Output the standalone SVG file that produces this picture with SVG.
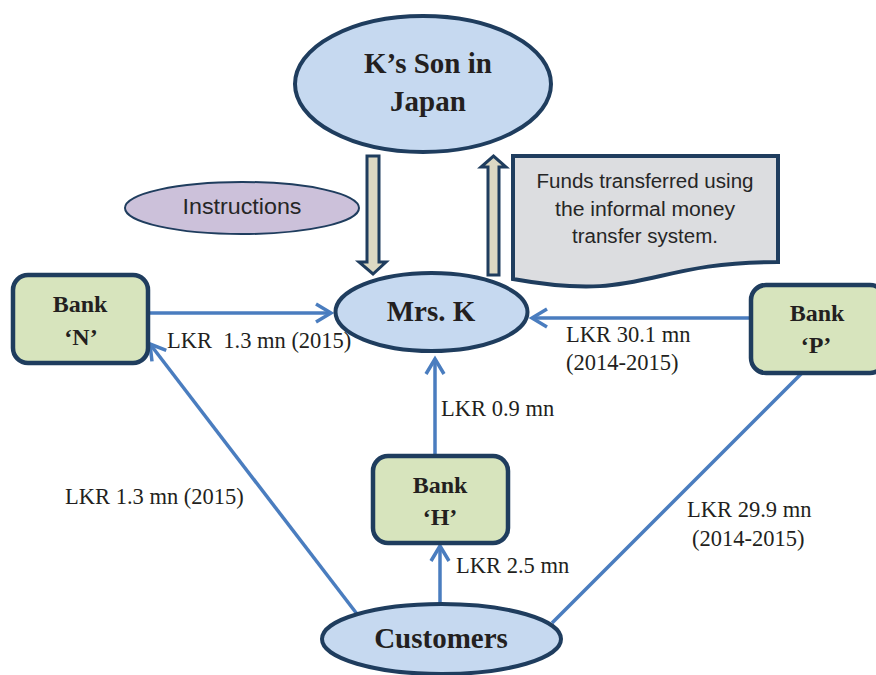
<svg xmlns="http://www.w3.org/2000/svg" width="876" height="675" viewBox="0 0 876 675">
  <style>
    .oval { fill: #c6d9f0; stroke: #1f3d5e; stroke-width: 4; }
    .bank { fill: #d7e4bd; stroke: #1f3d5e; stroke-width: 4.5; }
    .instr { fill: #ccc1da; stroke: #1f3d5e; stroke-width: 2; }
    .doc { fill: #dcdde0; stroke: #1f3d5e; stroke-width: 4; }
    .block { fill: #ddd9c3; stroke: #1f3d5e; stroke-width: 3; }
    .flow { fill: none; stroke: #4a7dbf; stroke-width: 3.5; }
    .title { font-family: "Liberation Serif", "Times New Roman", serif; font-weight: bold; fill: #231f20; text-anchor: middle; }
    .lbl { font-family: "Liberation Serif", "Times New Roman", serif; font-size: 22.5px; fill: #231f20; }
    .sans { font-family: "Liberation Sans", Arial, sans-serif; fill: #262626; text-anchor: middle; }
  </style>
  <defs>
    <marker id="chevron" markerUnits="userSpaceOnUse" markerWidth="24" markerHeight="24" viewBox="0 0 24 24" refX="19" refY="12" orient="auto">
      <path d="M4,3 L19,12 L4,21" fill="none" stroke="#4a7dbf" stroke-width="3.5"/>
    </marker>
  </defs>

  <!-- connectors -->
  <g id="connectors">
    <path class="flow" d="M148,313 L331,313" marker-end="url(#chevron)"/>
    <path class="flow" d="M751,318 L532,318" marker-end="url(#chevron)"/>
    <path class="flow" d="M435,455 L435,359" marker-end="url(#chevron)"/>
    <path class="flow" d="M440,604 L440,546" marker-end="url(#chevron)"/>
    <path class="flow" d="M357,614 L150,344" marker-end="url(#chevron)"/>
    <path class="flow" d="M552,623 L802,373"/>
    <path class="block" d="M367,156 H379 V262 H386 L373,274 L359,262 H367 Z"/>
    <path class="block" d="M488,275 V167 H481 L493.5,156 L506,167 H499 V275 Z"/>
  </g>

  <!-- edge labels -->
  <g id="labels">
    <text class="lbl" x="167" y="348" xml:space="preserve">LKR  1.3 mn (2015)</text>
    <text class="lbl" x="566" y="342">LKR 30.1 mn</text>
    <text class="lbl" x="566" y="370">(2014-2015)</text>
    <text class="lbl" x="441" y="416">LKR 0.9 mn</text>
    <text class="lbl" x="456" y="573">LKR 2.5 mn</text>
    <text class="lbl" x="65" y="504">LKR 1.3 mn (2015)</text>
    <text class="lbl" x="687" y="517">LKR 29.9 mn</text>
    <text class="lbl" x="692" y="546">(2014-2015)</text>
  </g>

  <g id="son">
    <ellipse class="oval" cx="423" cy="84" rx="128" ry="68"/>
    <text class="title" x="428" y="73" font-size="29">K’s Son in</text>
    <text class="title" x="428" y="111" font-size="29">Japan</text>
  </g>

  <g id="instructions">
    <ellipse class="instr" cx="242" cy="208" rx="117" ry="26"/>
    <text class="sans" x="242" y="214" font-size="22" textLength="119" lengthAdjust="spacingAndGlyphs">Instructions</text>
  </g>

  <g id="funds-note">
    <path class="doc" d="M513,156 H778 V262 C645,262 645,303 513,279 Z"/>
    <text class="sans" x="645" y="188" font-size="20" textLength="217" lengthAdjust="spacingAndGlyphs">Funds transferred using</text>
    <text class="sans" x="645" y="216" font-size="20" textLength="180" lengthAdjust="spacingAndGlyphs">the informal money</text>
    <text class="sans" x="645" y="243" font-size="20" textLength="146" lengthAdjust="spacingAndGlyphs">transfer system.</text>
  </g>

  <g id="mrs-k">
    <ellipse class="oval" cx="431.5" cy="312" rx="96" ry="39"/>
    <text class="title" x="431" y="321" font-size="29">Mrs. K</text>
  </g>

  <g id="bank-n">
    <rect class="bank" x="13" y="275" width="135" height="88" rx="15"/>
    <text class="title" x="80" y="312" font-size="24">Bank</text>
    <text class="title" x="81" y="345" font-size="24">‘N’</text>
  </g>

  <g id="bank-p">
    <rect class="bank" x="751" y="285" width="134" height="88" rx="15"/>
    <text class="title" x="817" y="321" font-size="24">Bank</text>
    <text class="title" x="816" y="353" font-size="24">‘P’</text>
  </g>

  <g id="bank-h">
    <rect class="bank" x="373" y="456" width="135" height="87" rx="15"/>
    <text class="title" x="440" y="493" font-size="24">Bank</text>
    <text class="title" x="440" y="525" font-size="24">‘H’</text>
  </g>

  <g id="customers">
    <ellipse class="oval" cx="441.5" cy="639" rx="119.5" ry="35"/>
    <text class="title" x="441" y="648" font-size="29">Customers</text>
  </g>
</svg>
